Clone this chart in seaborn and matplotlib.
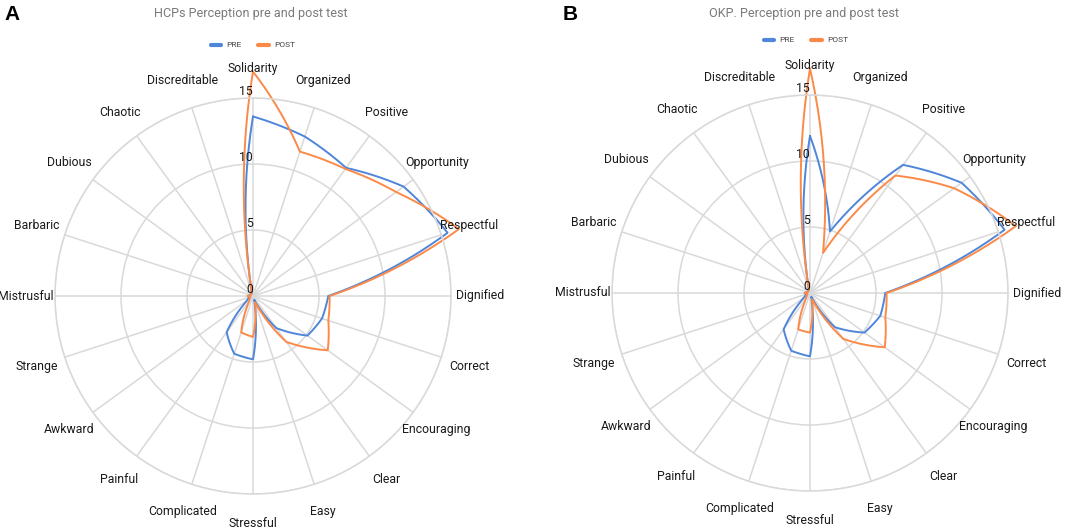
import numpy as np
import matplotlib
matplotlib.use("Agg")
import matplotlib.pyplot as plt
import seaborn as sns
from matplotlib.lines import Line2D

categories = ["Solidarity", "Organized", "Positive", "Opportunity", "Respectful",
              "Dignified", "Correct", "Encouraging", "Clear", "Easy", "Stressful",
              "Complicated", "Painful", "Awkward", "Strange", "Mistrusful",
              "Barbaric", "Dubious", "Chaotic", "Discreditable"]

hcp_pre = [13.6, 12.7, 12.0, 14.1, 15.5, 5.7, 5.5, 5.1, 3.0, 0.3, 4.8,
           4.6, 3.4, 0.5, 0.3, 0.4, 0.2, 0.2, 0.2, 0.3]
hcp_post = [17.0, 11.5, 11.9, 13.4, 16.4, 5.8, 6.0, 7.0, 4.3, 0.5, 3.1,
            2.9, 0.5, 0.3, 0.2, 0.4, 0.2, 0.2, 0.2, 0.3]
okp_pre = [11.9, 4.9, 12.0, 14.2, 15.5, 5.7, 5.6, 5.1, 3.2, 0.3, 4.8,
           4.6, 3.4, 0.5, 0.3, 0.4, 0.2, 0.2, 0.2, 0.3]
okp_post = [17.0, 3.2, 11.0, 13.5, 16.4, 5.8, 6.0, 7.0, 4.3, 0.5, 3.0,
            2.9, 0.5, 0.3, 0.2, 0.4, 0.2, 0.2, 0.2, 0.3]

titles = ["HCPs Perception pre and post test", "OKP. Perception pre and post test"]
panel_letters = ["A", "B"]
series_names = ["PRE", "POST"]
radial_ticks = [0, 5, 10, 15]

BLUE = "#4f86d9"
ORANGE = "#fb8a48"
GRID = "#d9d9d9"

sns.set_theme(style="white")
plt.rcParams["font.family"] = ["Roboto", "DejaVu Sans"]

n = len(categories)
angles = np.pi / 2 - 2 * np.pi * np.arange(n) / n  # clockwise from top


def curved_path(values, steps=40, alpha=0.5):
    """Segments between spokes, bent part-way between a chord and an arc."""
    v = np.asarray(values, dtype=float)
    th_all, r_all = [], []
    for i in range(n):
        j = (i + 1) % n
        a1, a2 = angles[i], angles[i] - 2 * np.pi / n
        r1, r2 = v[i], v[j]
        t = np.linspace(0, 1, steps, endpoint=False)
        # arc-like (linear in angle and radius)
        ths = a1 + t * (a2 - a1)
        rs = r1 + t * (r2 - r1)
        xs, ys = rs * np.cos(ths), rs * np.sin(ths)
        # straight chord
        x1, y1 = r1 * np.cos(a1), r1 * np.sin(a1)
        x2, y2 = r2 * np.cos(a2), r2 * np.sin(a2)
        xl, yl = x1 + t * (x2 - x1), y1 + t * (y2 - y1)
        x = alpha * xs + (1 - alpha) * xl
        y = alpha * ys + (1 - alpha) * yl
        th_all.append(np.arctan2(y, x))
        r_all.append(np.hypot(x, y))
    th = np.concatenate(th_all + [[angles[0]]])
    r = np.concatenate(r_all + [[v[0]]])
    return np.unwrap(th), r


fig = plt.figure(figsize=(10.65, 5.29), dpi=100)
fig.patch.set_facecolor("white")

R_PX = 198
centers = [(253, 296), (810, 293)]
data_sets = [(hcp_pre, hcp_post), (okp_pre, okp_post)]
title_pos = [(251, 14), (804, 13)]
legend_pos = [(253, 45), (806, 40)]
letter_pos = [(4, 14), (563, 14)]

W, H = 1065, 529
for k in range(2):
    cx, cy = centers[k]
    left = (cx - R_PX) / W
    bottom = (H - cy - R_PX) / H
    ax = fig.add_axes([left, bottom, 2 * R_PX / W, 2 * R_PX / H], projection="polar")
    ax.set_facecolor("white")
    ax.set_ylim(0, 15)
    ax.set_rgrids([5, 10, 15], labels=[""] * 3)
    ax.set_thetagrids(np.degrees(angles) % 360, labels=[""] * n)
    ax.grid(True, color=GRID, linewidth=1.1)
    ax.spines["polar"].set_color(GRID)
    ax.spines["polar"].set_linewidth(1.1)
    ax.tick_params(pad=0, length=0)

    pre, post = data_sets[k]
    for vals, col in [(pre, BLUE), (post, ORANGE)]:
        th, r = curved_path(vals)
        sns.lineplot(x=th, y=r, ax=ax, sort=False, color=col, linewidth=1.4,
                     legend=False, estimator=None)
    for ln in ax.lines:
        ln.set_clip_on(False)

    for a, lab in zip(angles, categories):
        ax.text(a, 17.2, lab, ha="center", va="center", fontsize=8.8,
                color="#1a1a1a")
    for t in radial_ticks:
        ax.text(np.pi / 2, t, str(t), ha="right", va="bottom", fontsize=8.8,
                color="#1a1a1a")

    tx, ty = title_pos[k]
    fig.text(tx / W, 1 - ty / H, titles[k], ha="center", va="center",
             fontsize=9.1, color="#7a7a7a")
    lx, ly = letter_pos[k]
    fig.text(lx / W, 1 - ly / H, panel_letters[k], ha="left", va="center",
             fontsize=15, fontweight="bold", color="black",
             family=["Liberation Sans", "DejaVu Sans"])
    handles = [Line2D([], [], color=BLUE, lw=3), Line2D([], [], color=ORANGE, lw=3)]
    gx, gy = legend_pos[k]
    fig.legend(handles, series_names, loc="center",
               bbox_to_anchor=(gx / W, 1 - gy / H), ncol=2, frameon=False,
               fontsize=6, handlelength=1.3, handletextpad=0.6,
               columnspacing=2.0, labelcolor="#444444")

fig.savefig("out.png", dpi=100, facecolor="white")
